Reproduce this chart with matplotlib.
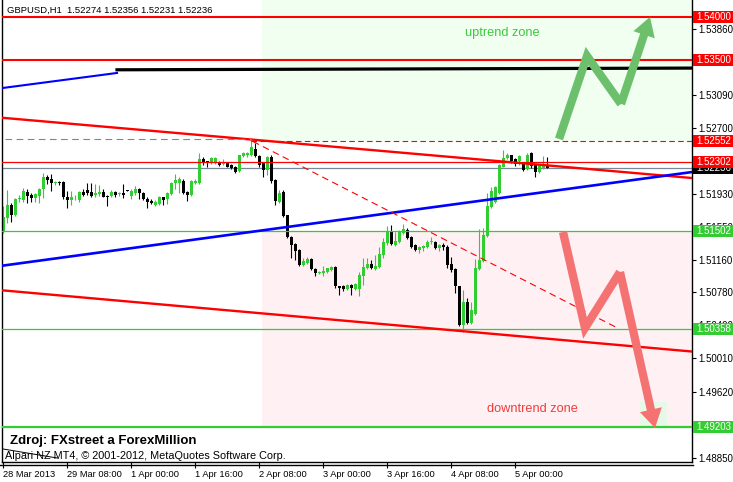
import matplotlib
matplotlib.use('Agg')
import matplotlib.pyplot as plt
from matplotlib.patches import Rectangle, FancyArrowPatch
from matplotlib.lines import Line2D
from matplotlib.transforms import blended_transform_factory
import numpy as np

# GBPUSD H1 bars (bar 0 = first bar on the left)
opens = [1.5148, 1.5165, 1.5180, 1.5168, 1.5187, 1.5186, 1.5195, 1.5192, 1.5188, 1.5191,
         1.5199, 1.5213, 1.5211, 1.5206, 1.5207, 1.5207, 1.5189, 1.5186, 1.5189, 1.5186,
         1.5195, 1.5198, 1.5195, 1.5192, 1.5193, 1.5195, 1.5191, 1.5191, 1.5195, 1.5193,
         1.5194, 1.5198, 1.5191, 1.5194, 1.5199, 1.5194, 1.5187, 1.5185, 1.5180, 1.5181,
         1.5189, 1.5187, 1.5193, 1.5206, 1.5206, 1.5208, 1.5195, 1.5192, 1.5206, 1.5206,
         1.5234, 1.5231, 1.5229, 1.5229, 1.5230, 1.5228, 1.5229, 1.5227, 1.5225, 1.5220,
         1.5237, 1.5238, 1.5238, 1.5245, 1.5237, 1.5229, 1.5221, 1.5236, 1.5209, 1.5184,
         1.5195, 1.5168, 1.5143, 1.5135, 1.5128, 1.5110, 1.5112, 1.5117, 1.5105, 1.5101,
         1.5101, 1.5102, 1.5104, 1.5108, 1.5085, 1.5085, 1.5082, 1.5087, 1.5082, 1.5082,
         1.5097, 1.5107, 1.5111, 1.5105, 1.5108, 1.5122, 1.5136, 1.5148, 1.5133, 1.5137,
         1.5147, 1.5151, 1.5143, 1.5133, 1.5128, 1.5130, 1.5131, 1.5137, 1.5137, 1.5130,
         1.5133, 1.5131, 1.5111, 1.5105, 1.5085, 1.5040, 1.5067, 1.5042, 1.5053, 1.5105,
         1.5115, 1.5144, 1.5178, 1.5184, 1.5194, 1.5225, 1.5235, 1.5238, 1.5234, 1.5231,
         1.5229, 1.5222, 1.5241, 1.5227, 1.5219, 1.5223, 1.52274]
highs = [1.5179, 1.5198, 1.5182, 1.5188, 1.5192, 1.5200, 1.5199, 1.5194, 1.5194, 1.5200,
         1.5217, 1.5215, 1.5216, 1.5208, 1.5208, 1.5208, 1.5196, 1.5196, 1.5192, 1.5196,
         1.5199, 1.5206, 1.5206, 1.5205, 1.5203, 1.5199, 1.5192, 1.5198, 1.5196, 1.5195,
         1.5205, 1.5198, 1.5199, 1.5202, 1.5200, 1.5195, 1.5189, 1.5187, 1.5186, 1.5191,
         1.5190, 1.5195, 1.5207, 1.5216, 1.5213, 1.5210, 1.5196, 1.5209, 1.5210, 1.5241,
         1.5236, 1.5232, 1.5236, 1.5236, 1.5232, 1.5234, 1.5230, 1.5228, 1.5226, 1.5239,
         1.5242, 1.5242, 1.5256, 1.5253, 1.5238, 1.5230, 1.5237, 1.5238, 1.5210, 1.5198,
         1.5198, 1.5169, 1.5144, 1.5136, 1.5129, 1.5118, 1.5119, 1.5118, 1.5106, 1.5103,
         1.5109, 1.5107, 1.5109, 1.5109, 1.5086, 1.5087, 1.5088, 1.5088, 1.5089, 1.5102,
         1.5118, 1.5118, 1.5116, 1.5122, 1.5131, 1.5141, 1.5156, 1.5157, 1.5148, 1.5151,
         1.5158, 1.5153, 1.5144, 1.5135, 1.5132, 1.5133, 1.5139, 1.5143, 1.5138, 1.5134,
         1.5136, 1.5133, 1.5119, 1.5106, 1.5086, 1.5081, 1.5071, 1.5067, 1.5117, 1.5152,
         1.5153, 1.5194, 1.5201, 1.5202, 1.5228, 1.5244, 1.5241, 1.5239, 1.5235, 1.5239,
         1.5230, 1.5241, 1.5242, 1.5228, 1.5228, 1.5237, 1.52356]
lows = [1.5147, 1.5159, 1.5160, 1.5167, 1.5184, 1.5184, 1.5182, 1.5184, 1.5184, 1.5182,
        1.5188, 1.5205, 1.5196, 1.5203, 1.5203, 1.5187, 1.5177, 1.5180, 1.5186, 1.5184,
        1.5191, 1.5192, 1.5189, 1.5189, 1.5191, 1.5189, 1.5179, 1.5190, 1.5189, 1.5191,
        1.5188, 1.5197, 1.5187, 1.5192, 1.5187, 1.5186, 1.5177, 1.5181, 1.5179, 1.5180,
        1.5180, 1.5181, 1.5192, 1.5199, 1.5194, 1.5193, 1.5185, 1.5191, 1.5205, 1.5205,
        1.5227, 1.5225, 1.5228, 1.5228, 1.5226, 1.5227, 1.5224, 1.5222, 1.5217, 1.5219,
        1.5236, 1.5236, 1.5237, 1.5236, 1.5225, 1.5213, 1.5215, 1.5206, 1.5180, 1.5182,
        1.5166, 1.5141, 1.5118, 1.5116, 1.5109, 1.5109, 1.5111, 1.5104, 1.5097, 1.5100,
        1.5097, 1.5101, 1.5103, 1.5083, 1.5075, 1.5080, 1.5081, 1.5075, 1.5081, 1.5074,
        1.5087, 1.5105, 1.5105, 1.5104, 1.5107, 1.5118, 1.5133, 1.5133, 1.5132, 1.5136,
        1.5146, 1.5140, 1.5130, 1.5126, 1.5124, 1.5126, 1.5130, 1.5135, 1.5129, 1.5126,
        1.5128, 1.5107, 1.5102, 1.5077, 1.5039, 1.5032, 1.5041, 1.5041, 1.5052, 1.5104,
        1.5114, 1.5143, 1.5177, 1.5182, 1.5193, 1.5224, 1.5234, 1.5229, 1.5226, 1.5227,
        1.5220, 1.5221, 1.5223, 1.5213, 1.5217, 1.5222, 1.52231]
closes = [1.5166, 1.5180, 1.5168, 1.5187, 1.5188, 1.5196, 1.5191, 1.5188, 1.5193, 1.5199,
          1.5213, 1.5209, 1.5206, 1.5207, 1.5206, 1.5189, 1.5186, 1.5189, 1.5190, 1.5195,
          1.5192, 1.5194, 1.5191, 1.5194, 1.5195, 1.5190, 1.5189, 1.5195, 1.5192, 1.5194,
          1.5192, 1.5197, 1.5196, 1.5199, 1.5194, 1.5187, 1.5184, 1.5182, 1.5184, 1.5189,
          1.5186, 1.5194, 1.5206, 1.5209, 1.5210, 1.5194, 1.5192, 1.5208, 1.5208, 1.5234,
          1.5229, 1.5229, 1.5235, 1.5235, 1.5227, 1.5229, 1.5225, 1.5223, 1.5219, 1.5238,
          1.5241, 1.5241, 1.5248, 1.5237, 1.5227, 1.5221, 1.5236, 1.5208, 1.5185, 1.5194,
          1.5167, 1.5143, 1.5133, 1.5126, 1.5110, 1.5115, 1.5117, 1.5105, 1.5101, 1.5102,
          1.5103, 1.5106, 1.5108, 1.5085, 1.5083, 1.5082, 1.5087, 1.5083, 1.5088, 1.5098,
          1.5108, 1.5111, 1.5107, 1.5109, 1.5123, 1.5137, 1.5148, 1.5135, 1.5138, 1.5150,
          1.5152, 1.5141, 1.5131, 1.5128, 1.5131, 1.5132, 1.5137, 1.5138, 1.5130, 1.5133,
          1.5131, 1.5110, 1.5104, 1.5085, 1.5040, 1.5067, 1.5042, 1.5057, 1.5107, 1.5116,
          1.5145, 1.5179, 1.5196, 1.5201, 1.5227, 1.5235, 1.5238, 1.5231, 1.5228, 1.5237,
          1.5221, 1.5239, 1.5226, 1.5219, 1.5227, 1.5228, 1.52236]

time_ticks = [0, 16, 32, 48, 64, 80, 96, 112, 128]
time_labels = ['28 Mar 2013', '29 Mar 08:00', '1 Apr 00:00', '1 Apr 16:00', '2 Apr 08:00',
               '3 Apr 00:00', '3 Apr 16:00', '4 Apr 08:00', '5 Apr 00:00']
price_ticks = [1.53860, 1.53470, 1.53090, 1.52700, 1.52320, 1.51930, 1.51550, 1.51160,
               1.50780, 1.50400, 1.50010, 1.49620, 1.49230, 1.48850]
# these two sit fully under the level boxes
hidden_ticks = [1.53470, 1.52320]

# horizontal levels drawn on the chart
red_levels = [1.54000, 1.53500, 1.52552, 1.52302]
green_levels = [1.51502, 1.50358, 1.49203]
bid = 1.52236

# trend lines: (bar, price) end points
upper_red = ([-0.25, 172.25], [1.52820, 1.52116])
lower_red = ([-0.25, 172.25], [1.50805, 1.50090])
blue_channel = ([-0.25, 172.25], [1.51092, 1.52186])
blue_short = ([0, 28.5], [1.53168, 1.53343])
black_line = ([28.5, 172.25], [1.53380, 1.53400])
red_dashed = ([62.5, 153], [1.52543, 1.50380])
gray_dashed = ([0.5, 62.0], [1.52572, 1.52572])
footer_line = ([0, 13.5], [1.48952, 1.48847])

# zones and drawn arrows
zone_start = 64.75
up_arrow_x = [139, 146, 154.5, 161.75]
up_arrow_y = [1.52572, 1.53541, 1.52981, 1.53997]
down_arrow_x = [140, 145.5, 154.25, 163]
down_arrow_y = [1.51486, 1.50365, 1.51019, 1.49197]

GREEN = '#32CD32'
W, H = 733, 482
plt.rcParams['font.family'] = ['Liberation Sans', 'DejaVu Sans']

fig = plt.figure(figsize=(W / 100, H / 100), dpi=100)
ax = fig.add_axes([2 / W, 20 / H, 690 / W, 462 / H])
XMIN, XMAX = -0.25, 172.25
YMIN, YMAX = 1.48800, 1.54195
ax.set_xlim(XMIN, XMAX)
ax.set_ylim(YMIN, YMAX)

# background zones
ax.add_patch(Rectangle((zone_start, red_levels[2]), XMAX - zone_start, YMAX - red_levels[2],
                       fc='#F0FFF0', ec='none', zorder=0))
ax.add_patch(Rectangle((zone_start, green_levels[2]), XMAX - zone_start,
                       green_levels[0] - green_levels[2], fc='#FFF0F4', ec='none', zorder=0))
ax.add_patch(Rectangle((159.25, 1.49209), 6.75, 0.00292, fc='#E8F8E8', ec='none', zorder=0.5))

# candles
o, h, l, c = map(np.array, (opens, highs, lows, closes))
idx = np.arange(len(o))
cols = np.where(c >= o, GREEN, 'black')
ax.vlines(idx, l, h, colors=cols, lw=0.8, zorder=2)
ax.bar(idx, np.maximum(np.abs(c - o), 0.00009), bottom=np.minimum(o, c), width=0.75,
       color=cols, linewidth=0, zorder=2)

# levels
for p in red_levels[:2]:
    ax.axhline(p, color='red', lw=1.5, zorder=3)
ax.plot([62.0, XMAX], [red_levels[2]] * 2, color='red', lw=0.8, dashes=(5, 3), zorder=3)
ax.axhline(red_levels[3], color='red', lw=0.9, zorder=3)
ax.axhline(bid, color='#778899', lw=0.9, zorder=1.5)
ax.axhline(green_levels[0], color=GREEN, lw=0.9, zorder=3)
ax.axhline(green_levels[1], color=GREEN, lw=0.9, zorder=3)
ax.axhline(green_levels[2], color=GREEN, lw=1.6, zorder=3)

# trend lines
ax.plot(*upper_red, color='red', lw=1.7, zorder=3)
ax.plot(*lower_red, color='red', lw=1.7, zorder=3)
ax.plot(*blue_channel, color='blue', lw=1.9, zorder=3)
ax.plot(*blue_short, color='blue', lw=1.5, zorder=3)
ax.plot(*black_line, color='black', lw=2.3, zorder=3)
ax.plot(*red_dashed, color='red', lw=0.8, dashes=(6, 4), zorder=3)
ax.plot(*gray_dashed, color='#778899', lw=0.8, dashes=(6, 4), zorder=3)
ax.plot(*footer_line, color='black', lw=0.7, zorder=3, clip_on=False)

# zig-zag arrows
for xs, ys, col in ((up_arrow_x, up_arrow_y, '#6CC06C'), (down_arrow_x, down_arrow_y, '#F47272')):
    ax.plot(xs[:-1], ys[:-1], color=col, lw=6, solid_joinstyle='miter', solid_capstyle='butt', zorder=4)
    ax.add_patch(FancyArrowPatch((xs[-2], ys[-2]), (xs[-1], ys[-1]),
                                 arrowstyle='simple,head_length=0.75,head_width=0.9,tail_width=0.33',
                                 mutation_scale=18, color=col, lw=0, zorder=4,
                                 shrinkA=0, shrinkB=0))

ax.text(124.9, 1.53810, 'uptrend zone', color='#3CC83C', fontsize=9.2, ha='center', va='center', zorder=5)
ax.text(132.25, 1.49419, 'downtrend zone', color='#F03C3C', fontsize=9.2, ha='center', va='center', zorder=5)

# axes styling
ax.spines['top'].set_visible(False)
for s in ('left', 'right', 'bottom'):
    ax.spines[s].set_linewidth(1.0)
ax.yaxis.tick_right()
ax.set_yticks(price_ticks)
ax.set_yticklabels(['' if p in hidden_ticks else f'{p:.5f}' for p in price_ticks])
ax.tick_params(axis='y', length=3, width=0.8, pad=1.5, labelsize=7)
ax.set_xticks(time_ticks)
ax.set_xticklabels(time_labels, ha='left')
ax.tick_params(axis='x', length=4.5, width=0.8, pad=1.2, labelsize=6.7)
fig.add_artist(Line2D([0, 692.5 / W], [17 / H, 17 / H], color='black', lw=1.0))

# price boxes on the right
trans = blended_transform_factory(fig.transFigure, ax.transData)
def price_box(p, fc, z):
    ax.add_patch(Rectangle((693 / W, p - 0.0007), (W - 693) / W, 0.0014, transform=trans,
                           fc=fc, ec='none', clip_on=False, zorder=z))
    ax.text(696 / W, p, f'{p:.5f}', transform=trans, color='white', fontsize=7,
            va='center', ha='left', zorder=z + 0.1, clip_on=False)

price_box(bid, 'black', 6)
for p in red_levels:
    price_box(p, '#FF0000', 7)
for p in green_levels:
    price_box(p, '#33CC33', 7)

fig.text(7 / W, 1 - 10 / H, 'GBPUSD,H1  1.52274 1.52356 1.52231 1.52236', fontsize=6.8, va='center')
fig.text(10 / W, 1 - 441 / H, 'Zdroj: FXstreet a ForexMillion', fontsize=9.5, fontweight='bold', va='center')
fig.text(5 / W, 1 - 456 / H, 'Alpari NZ MT4, \u00a9 2001-2012, MetaQuotes Software Corp.', fontsize=7.8, va='center')

fig.savefig('out.png', dpi=100)
